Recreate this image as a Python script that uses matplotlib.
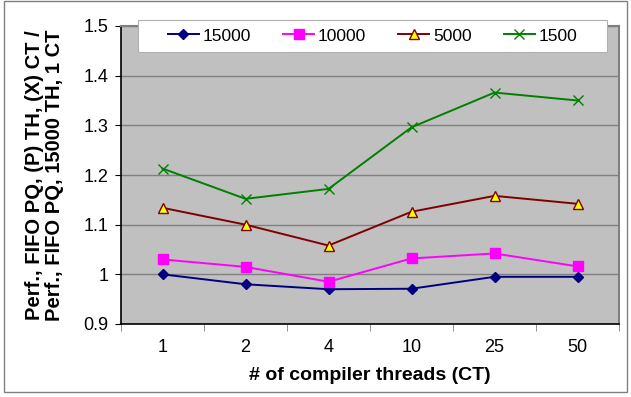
import matplotlib.pyplot as plt
from matplotlib.patches import Rectangle

plt.rcParams["font.family"] = ["Liberation Sans", "DejaVu Sans"]

# Compiler thread counts on the x axis (categorical)
threads = ["1", "2", "4", "10", "25", "50"]

# Relative performance for each thread-pool size
perf_15000 = [1.000, 0.980, 0.970, 0.971, 0.995, 0.995]
perf_10000 = [1.030, 1.015, 0.985, 1.032, 1.042, 1.016]
perf_5000 = [1.134, 1.100, 1.058, 1.126, 1.158, 1.142]
perf_1500 = [1.213, 1.152, 1.172, 1.296, 1.366, 1.350]

series = [
    ("15000", perf_15000, dict(color="#000080", marker="D", markersize=5,
                                markerfacecolor="#000080", markeredgecolor="#000080")),
    ("10000", perf_10000, dict(color="#FF00FF", marker="s", markersize=7,
                                markerfacecolor="#FF00FF", markeredgecolor="#FF00FF")),
    ("5000", perf_5000, dict(color="#800000", marker="^", markersize=7,
                              markerfacecolor="#FFFF00", markeredgecolor="#800000")),
    ("1500", perf_1500, dict(color="#008000", marker="x", markersize=7,
                              markeredgewidth=1.0)),
]

fig = plt.figure(figsize=(6.31, 3.97), dpi=100)
fig.patches.append(Rectangle((0.006, 0.012), 0.988, 0.985, transform=fig.transFigure,
                             fill=False, edgecolor="#808080", linewidth=1.0))

ax = fig.add_axes([121 / 631, 1 - 324 / 397, 498 / 631, 298 / 397])
ax.set_facecolor("#C0C0C0")

x = list(range(len(threads)))
for name, vals, style in series:
    ax.plot(x, vals, linewidth=1.4, label=name, zorder=3, **style)

ax.set_xlim(-0.5, len(threads) - 0.5)
ax.set_ylim(0.9, 1.5)
ax.set_yticks([0.9, 1.0, 1.1, 1.2, 1.3, 1.4, 1.5])
ax.set_yticklabels(["0.9", "1", "1.1", "1.2", "1.3", "1.4", "1.5"])
ax.yaxis.grid(True, color="#808080", linewidth=1.0)
ax.set_axisbelow(True)

# Category labels centred, tick marks on the category boundaries
ax.set_xticks(x)
ax.set_xticklabels(threads)
ax.tick_params(axis="x", length=0, labelsize=13, pad=11)
ax.set_xticks([i - 0.5 for i in range(len(threads) + 1)], minor=True)
ax.tick_params(axis="x", which="minor", length=5, color="#808080", direction="out")
ax.tick_params(axis="y", labelsize=13, length=4, direction="out", pad=5)

for side in ("top", "right"):
    ax.spines[side].set_color("#808080")
    ax.spines[side].set_linewidth(1.5)
for side in ("left", "bottom"):
    ax.spines[side].set_color("black")
    ax.spines[side].set_linewidth(1.2)

ax.set_xlabel("# of compiler threads (CT)", fontsize=14, fontweight="bold", labelpad=8)
ax.set_ylabel("Perf., FIFO PQ, (P) TH, (X) CT /\nPerf., FIFO PQ, 15000 TH, 1 CT",
              fontsize=14.5, fontweight="bold", labelpad=14, linespacing=1.05)

# White legend panel across the top of the plot area
box_x0, box_x1 = 0.034, 0.976
box_y0, box_y1 = 0.913, 1.020
ax.add_patch(Rectangle((box_x0, box_y0), box_x1 - box_x0, box_y1 - box_y0,
                       transform=ax.transAxes, facecolor="white", edgecolor="#B0B0B0",
                       linewidth=0.8, clip_on=False, zorder=4))

leg = ax.legend(loc="center", bbox_to_anchor=((box_x0 + box_x1) / 2, (box_y0 + box_y1) / 2),
                ncol=4, fontsize=12.5, frameon=False,
                handlelength=1.8, handletextpad=0.2, columnspacing=1.85, borderpad=0)
leg.set_zorder(5)

fig.savefig("out.png", dpi=100)
plt.close(fig)
